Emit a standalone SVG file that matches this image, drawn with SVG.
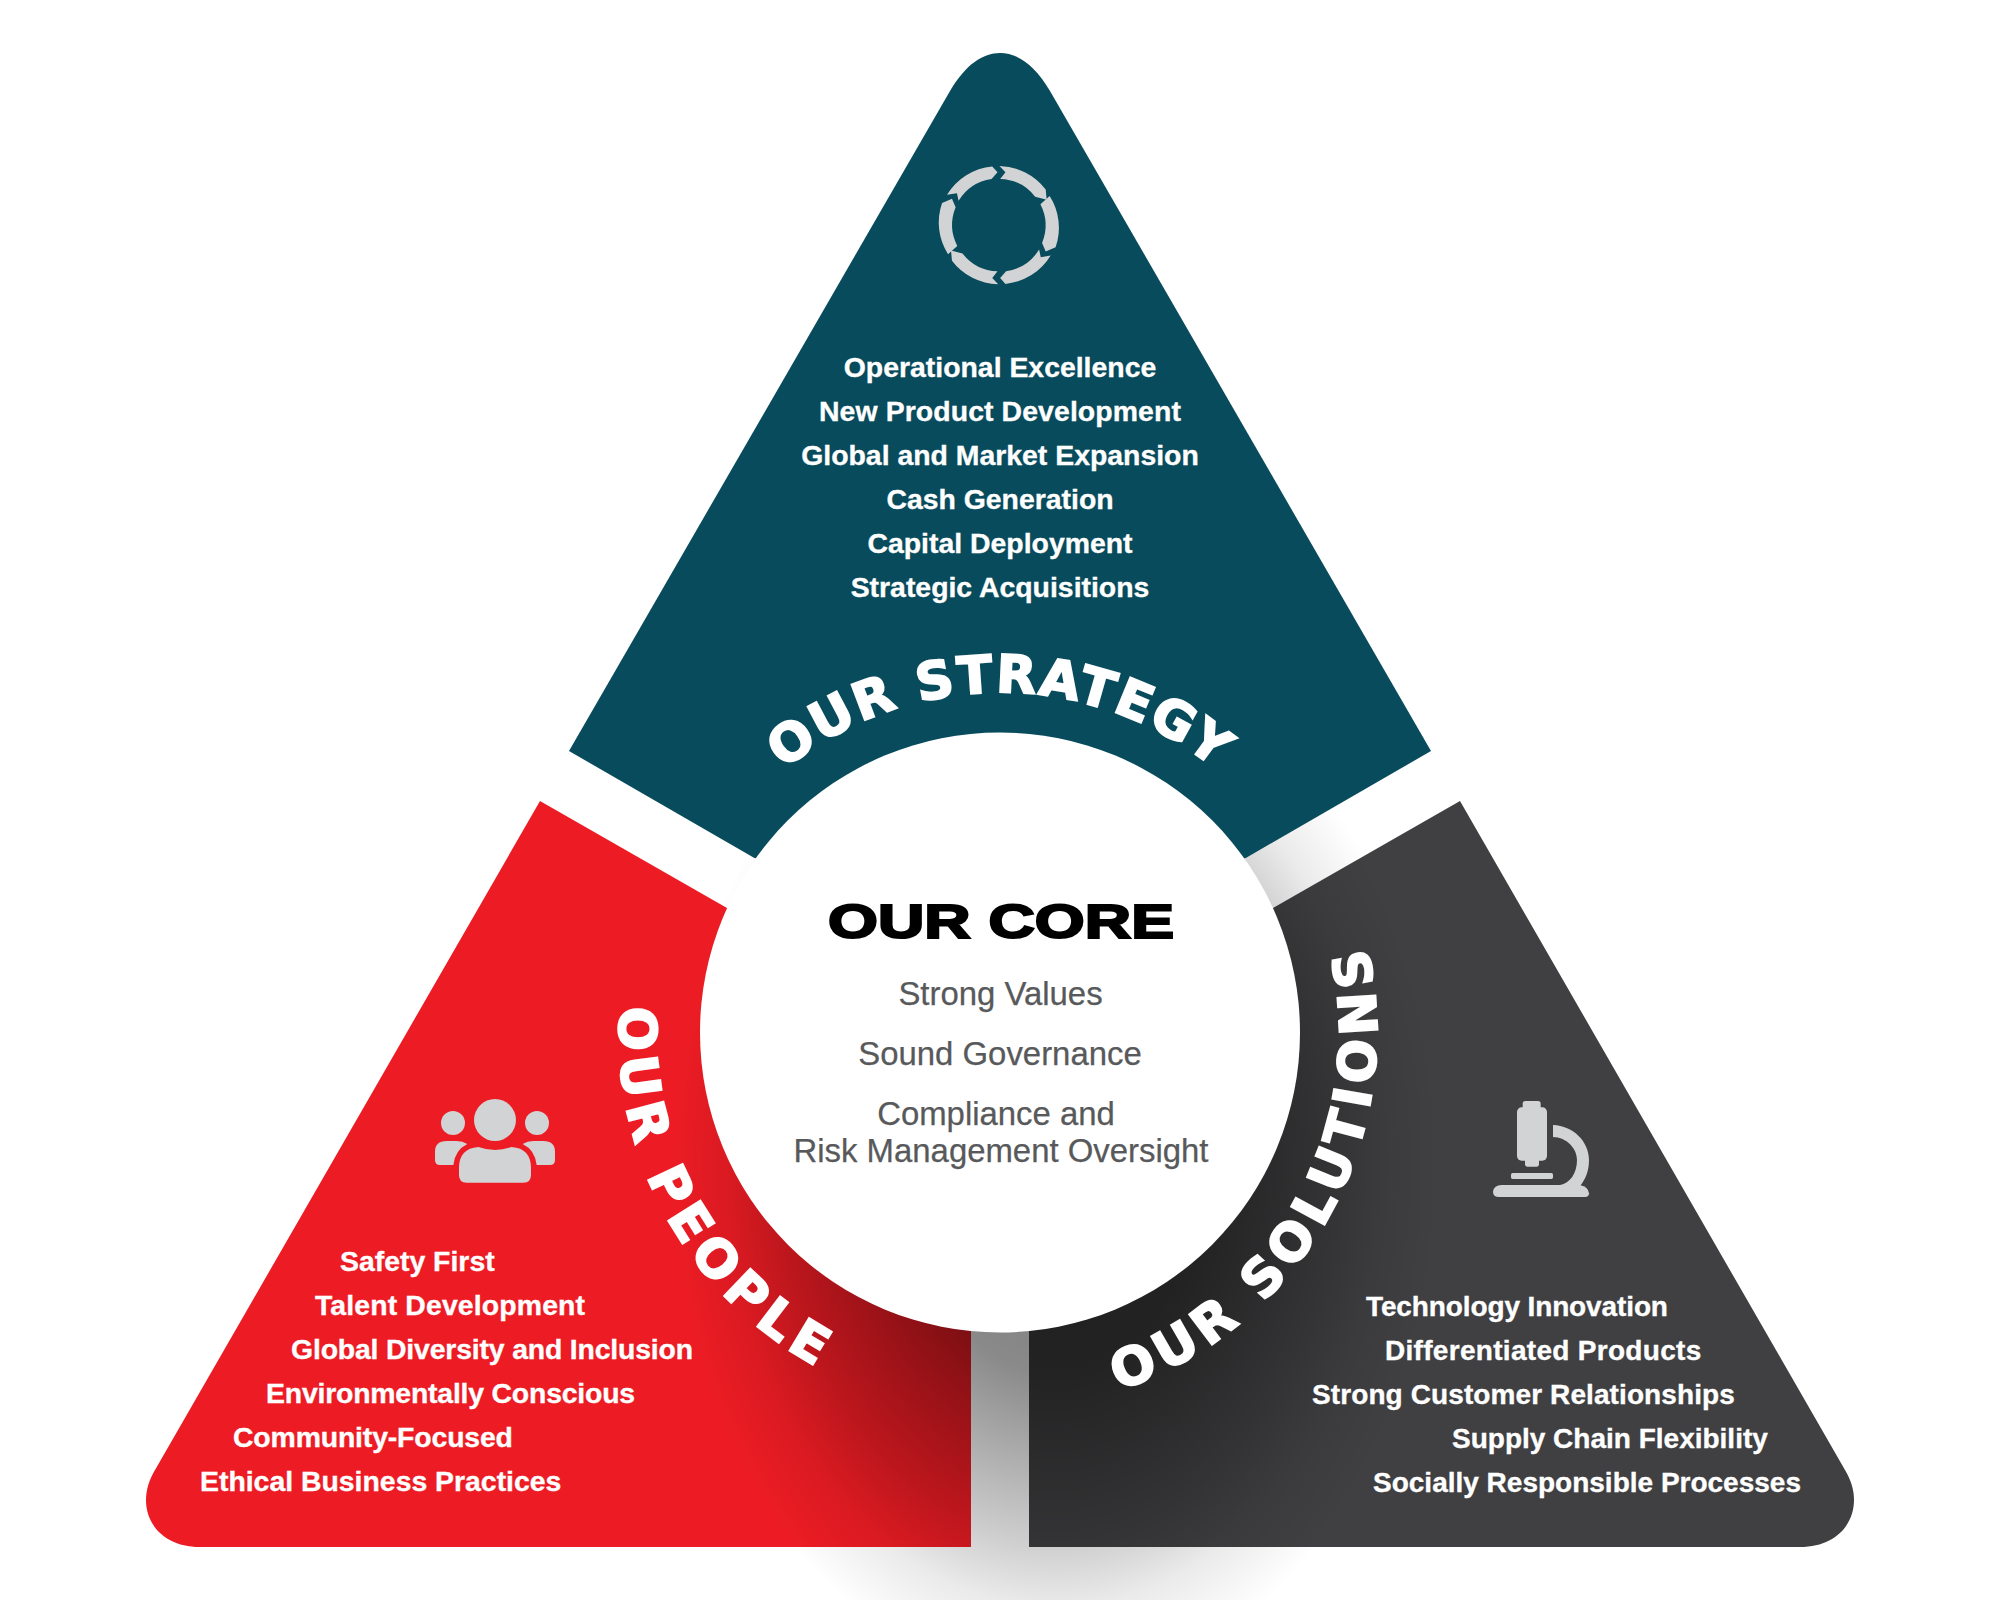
<svg xmlns="http://www.w3.org/2000/svg" width="2000" height="1600" viewBox="0 0 2000 1600">
<style>
.li{font-family:"Liberation Sans",Arial,sans-serif;font-weight:700;font-size:28.4px;fill:#fff;stroke:#fff;stroke-width:.35}
.rt{font-size:28px}
.mid{text-anchor:middle}
.core{font-family:"Liberation Sans",Arial,sans-serif;font-size:32.9px;fill:#58595b;stroke:#58595b;stroke-width:.25;text-anchor:middle}
.arc{font-family:"DejaVu Sans",sans-serif;font-weight:700;font-size:52px;fill:#fff;stroke:#fff;stroke-width:2;text-anchor:middle}
.ic{fill:#d1d3d4}
</style>
<defs>
<radialGradient id="shadow" gradientUnits="userSpaceOnUse" cx="0" cy="0" r="1" gradientTransform="translate(1055,1165) scale(385,520)">
<stop offset="0" stop-color="#000" stop-opacity=".55"/>
<stop offset=".4" stop-color="#000" stop-opacity=".46"/>
<stop offset=".72" stop-color="#000" stop-opacity=".2"/>
<stop offset=".85" stop-color="#000" stop-opacity=".08"/>
<stop offset="1" stop-color="#000" stop-opacity="0"/>
</radialGradient>
<path id="arcS" d="M660,1032.5 A340,340 0 0 1 1340,1032.5"/>
<path id="arcP" d="M1000,651.5 A381,381 0 0 0 1000,1413.5"/>
<path id="arcN" d="M1000,1409.5 A377,377 0 0 0 1000,655.5"/>
<g id="cyc">
<path d="M300,79 A179,179 0 0 1 440,150 L443,181 L408,172 A140,140 0 0 0 302,118 L318,98 Z"/>
<path d="M452,170 A178,178 0 0 1 470,325 L440,338 L429,312 A141,141 0 0 0 424,195 Z"/>
<path d="M455,350 A179,179 0 0 1 318,436 L302,418 L320,398 A142,142 0 0 0 420,332 L425,355 Z"/>
</g>
</defs>

<g id="our-people">
<path d="M540,801 L727,908 L971,1300 L971,1547 L200,1547 C165,1547 146,1525 146,1500 C146,1490 149,1480 155,1470 Z" fill="#ed1c24"/>
</g>
<g id="our-solutions">
<path d="M1460,801 L1273,908 L1029,1300 L1029,1547 L1800,1547 C1835,1547 1854,1525 1854,1500 C1854,1490 1851,1480 1845,1470 Z" fill="#404042"/>
</g>
<rect id="core-shadow" x="670" y="645" width="770" height="955" fill="url(#shadow)"/>

<g id="our-strategy">
<path d="M569,751 L950,91 C966,64 983,53 1000,53 C1017,53 1034,64 1050,91 L1431,751 L1245.8,858 L1000,900 L754.4,858 Z" fill="#084b5c"/>
<g class="ic" transform="translate(900.5,140) scale(.33)">
<use href="#cyc"/>
<use href="#cyc" transform="rotate(180 298 258)"/>
</g>
<text class="li mid" x="1000" y="377">Operational Excellence</text>
<text class="li mid" x="1000" y="421" letter-spacing=".1">New Product Development</text>
<text class="li mid" x="1000" y="465">Global and Market Expansion</text>
<text class="li mid" x="1000" y="509">Cash Generation</text>
<text class="li mid" x="1000" y="553">Capital Deployment</text>
<text class="li mid" x="1000" y="597">Strategic Acquisitions</text>
<text class="arc" letter-spacing="2"><textPath href="#arcS" startOffset="50%">OUR STRATEGY</textPath></text>
</g>

<g id="people-content">
<g class="ic" transform="translate(420,1080) scale(.33333)">
<circle cx="225" cy="120" r="63"/>
<circle cx="99" cy="129" r="36"/>
<circle cx="351" cy="129" r="36"/>
<path d="M117,265 Q117,205 175,201 Q200,210 225,210 Q250,210 275,201 Q333,205 333,265 L333,285 Q333,308 310,308 L140,308 Q117,308 117,285 Z"/>
<path d="M45,215 Q45,183 80,183 L110,183 Q128,183 142,192 Q105,210 100,255 L60,255 Q45,255 45,240 Z"/>
<path d="M405,215 Q405,183 370,183 L340,183 Q322,183 308,192 Q345,210 350,255 L390,255 Q405,255 405,240 Z"/>
</g>
<text class="li" x="340" y="1271">Safety First</text>
<text class="li" x="315" y="1315" letter-spacing=".14">Talent Development</text>
<text class="li" x="291" y="1359" letter-spacing="-.17">Global Diversity and Inclusion</text>
<text class="li" x="266" y="1403" letter-spacing="-.2">Environmentally Conscious</text>
<text class="li" x="233" y="1447" letter-spacing="-.15">Community-Focused</text>
<text class="li" x="200" y="1491">Ethical Business Practices</text>
<text class="arc" letter-spacing="7"><textPath href="#arcP" startOffset="66.2%">OUR PEOPLE</textPath></text>
</g>

<g id="solutions-content">
<g class="ic" transform="translate(1470,1080) scale(.33333)">
<rect x="158" y="63" width="54" height="30" rx="8"/>
<rect x="141" y="82" width="90" height="160" rx="14"/>
<rect x="165" y="230" width="42" height="30" rx="8"/>
<rect x="123" y="279" width="126" height="18" rx="5"/>
<path d="M87,351 Q69,351 69,335 Q72,315 95,315 L330,315 Q355,320 357,340 Q357,351 345,351 Z"/>
<path d="M249,135 C310,137 357,185 357,240 C357,275 345,300 330,318 L270,315 C300,310 321,280 321,240 C321,205 290,172 249,171 Z"/>
</g>
<text class="li rt" x="1366" y="1316" letter-spacing="-.12">Technology Innovation</text>
<text class="li rt" x="1385" y="1360" letter-spacing=".3">Differentiated Products</text>
<text class="li rt" x="1312" y="1404" letter-spacing=".1">Strong Customer Relationships</text>
<text class="li rt" x="1452" y="1448">Supply Chain Flexibility</text>
<text class="li rt" x="1373" y="1492">Socially Responsible Processes</text>
<text class="arc" letter-spacing="6.4"><textPath href="#arcN" startOffset="34%">OUR SOLUTIONS</textPath></text>
</g>

<g id="our-core">
<circle cx="1000" cy="1032.5" r="300" fill="#fff"/>
<text transform="translate(1001,938) scale(1.31,1)" font-family="'Liberation Sans',Arial,sans-serif" font-weight="700" font-size="49" text-anchor="middle" fill="#000" stroke="#000" stroke-width="2.2">OUR CORE</text>
<text class="core" x="1000.5" y="1005">Strong Values</text>
<text class="core" x="1000" y="1065">Sound Governance</text>
<text class="core" x="996" y="1125">Compliance and</text>
<text class="core" x="1001" y="1162">Risk Management Oversight</text>
</g>
</svg>
